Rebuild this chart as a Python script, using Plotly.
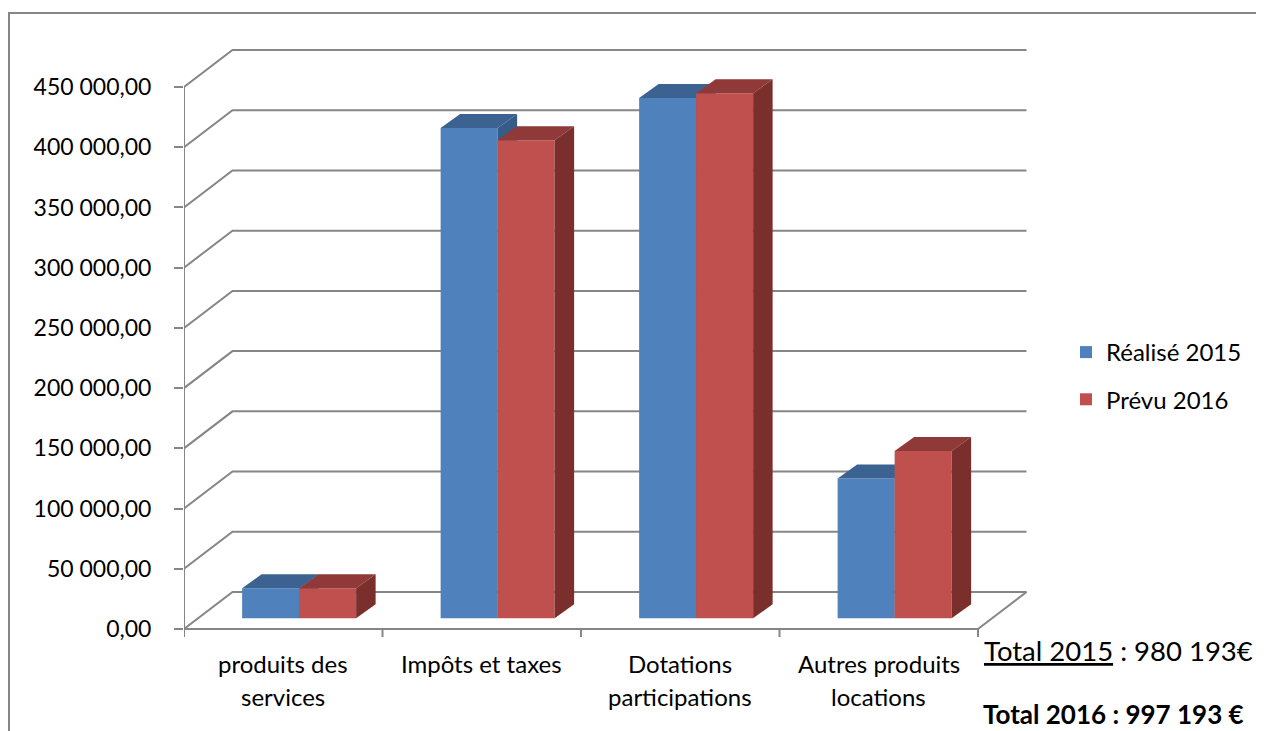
import plotly.graph_objects as go

# ---------------- data ----------------
CATEGORIES = ["produits des<br>services", "Impôts et taxes", "Dotations<br>participations", "Autres produits<br>locations"]
SERIES_NAMES = ["Réalisé 2015", "Prévu 2016"]
REALISE_2015 = [25000, 407000, 432000, 116000]
PREVU_2016 = [25000, 397000, 436000, 139000]
Y_TICKS = [0, 50000, 100000, 150000, 200000, 250000, 300000, 350000, 400000, 450000]
Y_TICK_LABELS = ["0,00", "50 000,00", "100 000,00", "150 000,00", "200 000,00",
                 "250 000,00", "300 000,00", "350 000,00", "400 000,00", "450 000,00"]
TOTAL_2015_LABEL = "Total 2015"
TOTAL_2015_VALUE = "980 193€"
TOTAL_2016_TEXT = "Total 2016 : 997 193 €"

# ---------------- style / geometry (screen pixels) ----------------
SCREEN_W, SCREEN_H = 1264, 731
OX, OY = 8, 8                                # page body margin
W, H = SCREEN_W - OX, SCREEN_H - OY
PL, PR, PT, PB = 184, 1034, 40, 645          # plot area in screen pixels
ZERO_PX = 629                                # screen pixel of value 0 on the front plane
PX_PER_VAL = 1.2044 / 1000.0                 # pixels per unit value
CAT_PX = 198.5                               # pixels per category
X_MIN = -0.5
X_MAX = X_MIN + (PR - PL) / CAT_PX
Y_MAX = (ZERO_PX - PT) / PX_PER_VAL
Y_MIN = -(PB - ZERO_PX) / PX_PER_VAL

WALL_DX = 48.5 / CAT_PX                      # depth offset of back wall
WALL_DY = 37 / PX_PER_VAL
BAR_BASE = 10.7 / PX_PER_VAL                 # bars stand slightly inside the floor
BAR_DX = 19.5 / CAT_PX                       # bar depth
BAR_DY = 14 / PX_PER_VAL
BAR_W = 57 / CAT_PX
GROUP_OFFSET = 0.08

GRID = "#868686"
FONT = "Lato"
BLUE_FRONT, BLUE_TOP, BLUE_SIDE = "#4F81BD", "#3B6291", "#355B87"
RED_FRONT, RED_TOP, RED_SIDE = "#C0504D", "#8F3A38", "#7A2F2D"


def px_to_paper_x(px):
    return (px - PL) / (PR - PL)


def px_to_paper_y(py):
    return (PB - py) / (PB - PT)


fig = go.Figure()


def add_series(values, name, front, top, side, sign, xa, ya):
    xs = [i + GROUP_OFFSET + sign * BAR_W / 2 for i in range(len(values))]
    fig.add_trace(go.Bar(
        x=xs, y=values, base=BAR_BASE, width=BAR_W, name=name,
        marker=dict(color=front, line=dict(width=0)),
        xaxis=xa, yaxis=ya, legendgroup=name, hoverinfo="skip",
    ))
    for xc, v in zip(xs, values):
        x0, x1 = xc - BAR_W / 2, xc + BAR_W / 2
        t = BAR_BASE + v
        # top face
        fig.add_trace(go.Scatter(
            x=[x0, x1, x1 + BAR_DX, x0 + BAR_DX, x0],
            y=[t, t, t + BAR_DY, t + BAR_DY, t],
            fill="toself", fillcolor=top, mode="lines", line=dict(width=0, color=top),
            showlegend=False, hoverinfo="skip", xaxis=xa, yaxis=ya,
        ))
        # side face
        fig.add_trace(go.Scatter(
            x=[x1, x1, x1 + BAR_DX, x1 + BAR_DX, x1],
            y=[BAR_BASE, t, t + BAR_DY, BAR_BASE + BAR_DY, BAR_BASE],
            fill="toself", fillcolor=side, mode="lines", line=dict(width=0, color=side),
            showlegend=False, hoverinfo="skip", xaxis=xa, yaxis=ya,
        ))


add_series(REALISE_2015, SERIES_NAMES[0], BLUE_FRONT, BLUE_TOP, BLUE_SIDE, -1, "x", "y")
add_series(PREVU_2016, SERIES_NAMES[1], RED_FRONT, RED_TOP, RED_SIDE, 1, "x2", "y2")

shapes = []
line_style = dict(color=GRID, width=2)
n = len(CATEGORIES)
front_right = X_MIN + n
# back wall gridlines with perspective
for v in Y_TICKS:
    shapes.append(dict(type="path", xref="x", yref="y", layer="below",
                       path=f"M {X_MIN},{v} L {X_MIN + WALL_DX},{v + WALL_DY} L {front_right + WALL_DX},{v + WALL_DY}",
                       line=line_style))
# front vertical axis
shapes.append(dict(type="line", xref="x", yref="y", x0=X_MIN, x1=X_MIN, y0=0, y1=Y_TICKS[-1], line=line_style))
# floor front edge and right edge
shapes.append(dict(type="line", xref="x", yref="y", x0=X_MIN, x1=front_right, y0=0, y1=0, line=line_style))
shapes.append(dict(type="line", xref="x", yref="y", x0=front_right, x1=front_right + WALL_DX, y0=0, y1=WALL_DY, line=line_style))
# category tick marks
for k in range(n + 1):
    xk = X_MIN + k
    shapes.append(dict(type="line", xref="x", yref="y", x0=xk, x1=xk, y0=0, y1=-8 / PX_PER_VAL, line=line_style))
# outer chart border (left and top)
shapes.append(dict(type="path", xref="paper", yref="paper",
                   path=f"M {px_to_paper_x(9)},{px_to_paper_y(740)} L {px_to_paper_x(9)},{px_to_paper_y(13)} L {px_to_paper_x(1270)},{px_to_paper_y(13)}",
                   line=line_style))

annotations = []
# category labels (one annotation per text line)
for i, lab in enumerate(CATEGORIES):
    for j, part in enumerate(lab.split("<br>")):
        annotations.append(dict(x=i, xref="x", y=px_to_paper_y(647 + 33 * j), yref="paper",
                                text=part, showarrow=False, xanchor="center", yanchor="top",
                                font=dict(family=FONT, size=24, color="#000")))
annotations.append(dict(x=px_to_paper_x(982), xref="paper", y=px_to_paper_y(650), yref="paper",
                        text=f"<u>{TOTAL_2015_LABEL}</u> : {TOTAL_2015_VALUE}", showarrow=False,
                        xanchor="left", yanchor="middle", font=dict(family=FONT, size=27.5, color="#000")))
annotations.append(dict(x=px_to_paper_x(982), xref="paper", y=px_to_paper_y(714), yref="paper",
                        text=f"<b>{TOTAL_2016_TEXT}</b>", showarrow=False, borderpad=0,
                        xanchor="left", yanchor="middle", font=dict(family=FONT, size=26, color="#000")))

axis_common = dict(showgrid=False, zeroline=False, showline=False)
fig.update_layout(
    width=W, height=H,
    margin=dict(l=PL - OX, r=W - (PR - OX), t=PT - OY, b=H - (PB - OY), pad=0),
    paper_bgcolor="white", plot_bgcolor="white",
    barmode="overlay",
    font=dict(family=FONT, size=23, color="#000"),
    xaxis=dict(range=[X_MIN, X_MAX], showticklabels=False, ticks="", **axis_common),
    yaxis=dict(range=[Y_MIN, Y_MAX], tickvals=Y_TICKS, ticktext=Y_TICK_LABELS,
               ticks="outside", ticklen=9, tickwidth=2, tickcolor=GRID, ticklabelstandoff=18,
               tickfont=dict(family=FONT, size=23, color="#000"), **axis_common),
    xaxis2=dict(range=[X_MIN, X_MAX], overlaying="x", visible=False, **axis_common),
    yaxis2=dict(range=[Y_MIN, Y_MAX], overlaying="y", visible=False, **axis_common),
    legend=dict(x=px_to_paper_x(1066), xanchor="left", y=px_to_paper_y(330), yanchor="top",
                traceorder="grouped", tracegroupgap=13, bgcolor="rgba(0,0,0,0)",
                font=dict(family=FONT, size=24, color="#000")),
    shapes=shapes,
    annotations=annotations,
    showlegend=True,
)

fig.write_html("out.html")
